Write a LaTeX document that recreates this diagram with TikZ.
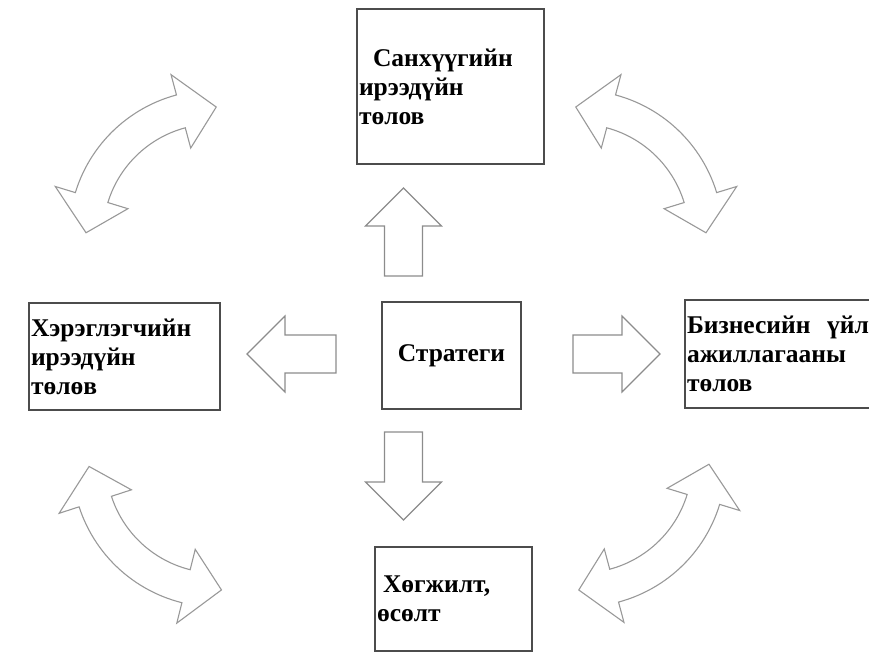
\documentclass[tikz,border=0pt]{standalone}
\usepackage{fontspec}
\setmainfont{Liberation Serif}
\usetikzlibrary{calc}
\tikzset{
    box/.style = {draw=black!70, line width=1.2pt, rectangle, inner sep=0pt, inner xsep=2pt, align=left, font=\bfseries\fontsize{25.5}{29}\selectfont},
    block-arrow/.style = {draw=black!45, fill=white, line width=1.1pt, line join=miter},
    bend-arrow/.style = {draw=black!40, fill=white, line width=1.1pt, line join=miter},
}
% straight block arrow: #1 end of the shaft, #2 tip
\newcommand{\blockarrow}[2]{%
    \coordinate (hb) at ($(#2)!38pt!(#1)$);
    \draw[block-arrow] ($(#1)!19pt!90:(#2)$) -- ($(hb)!19pt!90:(#2)$) -- ($(hb)!38pt!90:(#2)$) -- (#2)
        -- ($(hb)!38pt!-90:(#2)$) -- ($(hb)!19pt!-90:(#2)$) -- ($(#1)!19pt!-90:(#2)$) -- cycle;
}
% curved double arrow round centre #1, from angle #2 to #2+90
\newcommand{\bendarrow}[2]{%
    \begin{scope}[shift={(#1)}]
        \draw[bend-arrow] (#2:128) -- ({#2+16}:166) -- ({#2+16}:145)
            -- plot[domain={#2+16}:{#2+74}, samples=30] (\x:145)
            -- ({#2+74}:166) -- ({#2+90}:128) -- ({#2+74}:90) -- ({#2+74}:111)
            -- plot[domain={#2+74}:{#2+16}, samples=30] (\x:111)
            -- ({#2+16}:90) -- cycle;
    \end{scope}
}

\begin{document}
\begin{tikzpicture}[x=1pt, y=-1pt]
\useasboundingbox (0,0) rectangle (869,653);
\clip (0,0) rectangle (869,653);

% perspectives
\node[box, minimum height=155pt, text width=183pt] (fin) at (450.5,86.5) {\hspace*{14pt}Санхүүгийн\\ирээдүйн\\төлов};
\node[box, minimum height=107pt, text width=187pt] (cust) at (124.5,356.5) {Хэрэглэгчийн\\ирээдүйн\\төлөв};
\node[box, minimum height=108pt, text width=196pt] (proc) at (785,354) {\makebox[182pt][l]{Бизнесийн\hfill үйл}\\ажиллагааны\\төлов};
\node[box, minimum height=104pt, text width=153pt] (grow) at (453.5,599) {\hspace*{6pt}Хөгжилт,\\өсөлт};
\node[box, align=center, minimum width=139pt, minimum height=107pt] (strat) at (451.5,355.5) {Стратеги};

% arrows out of the strategy
\coordinate (up-s) at (403.5,276);    \coordinate (up-e) at (403.5,188);
\coordinate (left-s) at (336,354);    \coordinate (left-e) at (247,354);
\coordinate (right-s) at (573,354);   \coordinate (right-e) at (660,354);
\coordinate (down-s) at (403.5,432);  \coordinate (down-e) at (403.5,520);
\blockarrow{up-s}{up-e}
\blockarrow{left-s}{left-e}
\blockarrow{right-s}{right-e}
\blockarrow{down-s}{down-e}

% links between the perspectives
\bendarrow{214,235}{-179}
\bendarrow{578,235}{-91}
\bendarrow{217,462}{88}
\bendarrow{581,462}{1}
\end{tikzpicture}
\end{document}
